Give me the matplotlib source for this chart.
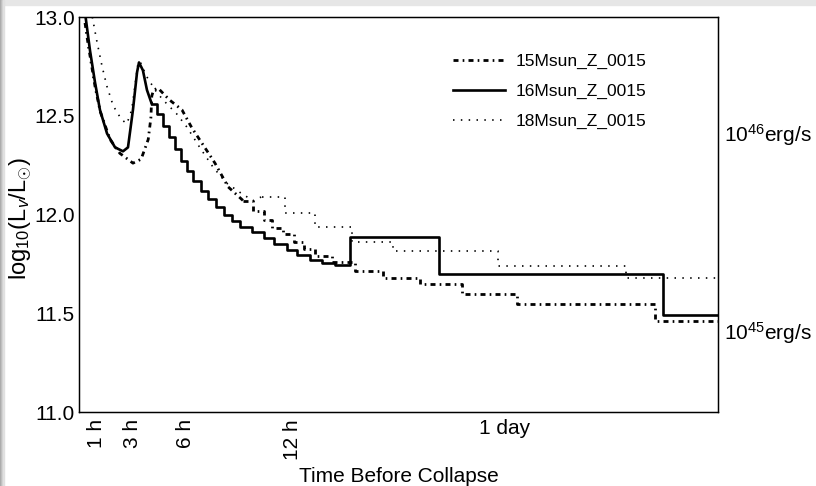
import matplotlib
matplotlib.use("Agg")
import matplotlib.pyplot as plt
from matplotlib.patches import Rectangle

plt.rcParams['font.family'] = ['Liberation Sans', 'DejaVu Sans']
plt.rcParams['mathtext.fontset'] = 'custom'
plt.rcParams['mathtext.rm'] = 'Liberation Sans'
plt.rcParams['mathtext.it'] = 'Liberation Sans:italic'

# time before collapse (hours) and log10(L/Lsun)
t15 = [0.34, 0.5, 0.9, 1.2, 1.75, 2.3, 3.04, 3.5, 3.9, 4.05, 4.1, 4.2, 4.45, 5.1,
       5.8, 6.35, 7.3, 7.66, 8.4, 9.25, 9.8, 10.4, 10.9, 11.5, 12.1, 12.7, 13.3,
       14.25, 15.55, 17.13, 19.2, 21.6, 24.7, 32.45, 36]
l15 = [12.97, 12.87, 12.65, 12.52, 12.38, 12.31, 12.26, 12.28, 12.38, 12.49, 12.60,
       12.63, 12.64, 12.58, 12.53, 12.44, 12.31, 12.26, 12.14, 12.07, 12.02, 11.97,
       11.93, 11.90, 11.86, 11.825, 11.79, 11.76, 11.715, 11.68, 11.65, 11.60,
       11.547, 11.46, 11.46]

t16 = [0.30, 0.40, 0.62, 0.90, 1.18, 1.58, 2.03, 2.48, 2.76, 3.04, 3.27, 3.38, 3.60,
       3.83, 4.10, 4.40, 4.73, 5.05, 5.40, 5.75, 6.10, 6.45, 6.85, 7.25, 7.70, 8.15,
       8.60, 9.07, 9.75, 10.4, 11.0, 11.7, 12.3, 13.0, 13.7, 14.4, 15.27, 20.28,
       32.9, 36]
l16 = [13.05, 12.98, 12.83, 12.67, 12.53, 12.41, 12.34, 12.32, 12.34, 12.53, 12.72,
       12.77, 12.73, 12.63, 12.56, 12.51, 12.45, 12.39, 12.33, 12.27, 12.22, 12.17,
       12.12, 12.08, 12.04, 12.00, 11.965, 11.935, 11.91, 11.88, 11.85, 11.82,
       11.795, 11.77, 11.755, 11.745, 11.886, 11.70, 11.49, 11.49]

t18 = [0.75, 1.0, 1.3, 1.57, 1.93, 2.4, 2.7, 2.97, 3.15, 3.33, 3.44, 3.8, 4.4, 4.95,
       5.5, 6.1, 6.8, 7.55, 8.3, 9.1, 9.8, 10.3, 11.6, 13.3, 15.4, 17.7, 23.6, 30.8, 36]
l18 = [13.0, 12.88, 12.75, 12.65, 12.55, 12.48, 12.46, 12.53, 12.65, 12.77, 12.775,
       12.70, 12.615, 12.56, 12.51, 12.44, 12.34, 12.24, 12.16, 12.11, 12.07, 12.09,
       12.01, 11.937, 11.86, 11.815, 11.74, 11.68, 11.68]

# index where each curve turns from a smooth line into a staircase
split15, split16, split18 = 19, 14, 21

labels = ['15Msun_Z_0015', '16Msun_Z_0015', '18Msun_Z_0015']
xtick_pos = [1, 3, 6, 12, 24]
xtick_lab = ['1 h', '3 h', '6 h', '12 h', '1 day']
ytick_pos = [11.0, 11.5, 12.0, 12.5, 13.0]
erg_pos = [12.417, 11.417]   # 1e46 and 1e45 erg/s in log10(L/Lsun)
erg_lab = [r'10$^{46}$erg/s', r'10$^{45}$erg/s']

fig = plt.figure(figsize=(8.16, 4.86), dpi=100)
ax = fig.add_axes([79/816, 1 - 412/486, 639/816, 395/486])

styles = [
    (t15, l15, split15, dict(lw=2.0, linestyle=(0, (1.8, 1.5, 0.6, 1.5)))),
    (t16, l16, split16, dict(lw=1.9, linestyle='-')),
    (t18, l18, split18, dict(lw=1.2, linestyle=(0, (0.9, 3.8)))),
]
for (t, l, k, kw), lab in zip(styles, labels):
    ax.plot(t[:k + 1], l[:k + 1], color='black', label=lab, **kw)
    ax.plot(t[k:], l[k:], color='black', drawstyle='steps-post', **kw)

ax.set_xlim(0, 36)
ax.set_ylim(11.0, 13.0)
ax.set_yticks(ytick_pos)
ax.set_yticklabels(['%.1f' % v for v in ytick_pos])
ax.set_xticks(xtick_pos)
ax.set_xticklabels(xtick_lab)
for lab in ax.get_xticklabels()[:-1]:
    lab.set_rotation(90)
ax.tick_params(length=0, labelsize=15)
ax.tick_params(axis='y', pad=3)
ax.tick_params(axis='x', pad=5)
for s in ax.spines.values():
    s.set_linewidth(1.0)

ax.set_xlabel('Time Before Collapse', fontsize=15)
ax.xaxis.set_label_coords(0.5, -0.14)
ax.set_ylabel(r'log$_{10}$(L$_{v}$/L$_{\odot}$)', fontsize=17)
ax.yaxis.set_label_coords(-0.071, 0.49)

# right hand labels in erg/s
ax2 = ax.twinx()
ax2.set_ylim(11.0, 13.0)
ax2.set_yticks(erg_pos)
ax2.set_yticklabels(erg_lab)
ax2.tick_params(length=0, labelsize=15, pad=4)

ax.legend(loc='upper left', bbox_to_anchor=(0.574, 0.925), borderaxespad=0,
          frameon=False, fontsize=12.5, handlelength=3.0, handletextpad=0.6,
          labelspacing=0.85)

# grey screenshot border on top and left
fig.patches.append(Rectangle((0, 1 - 5/486), 1, 5/486, transform=fig.transFigure,
                             color='#e6e6e6', zorder=-1))
for i, c in enumerate(['#a9a9a9', '#bcbcbc', '#cfcfcf', '#e0e0e0']):
    fig.patches.append(Rectangle((i/816, 0), 1/816, 1, transform=fig.transFigure,
                                 color=c, zorder=-1))

fig.savefig('out.png', dpi=100)
